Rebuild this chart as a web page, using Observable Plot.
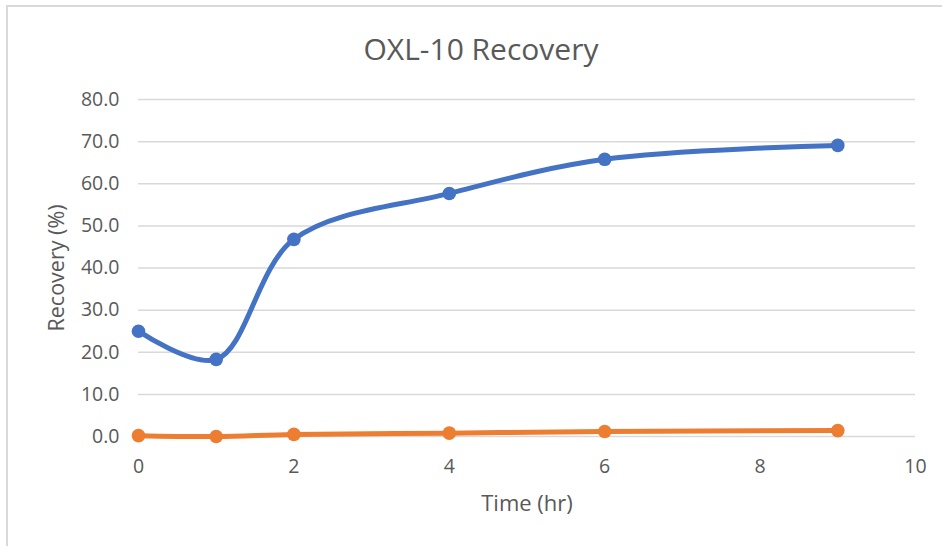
<!DOCTYPE html>
<html>
<head>
<meta charset="utf-8">
<script src="https://cdn.jsdelivr.net/npm/d3@7"></script>
<script src="https://cdn.jsdelivr.net/npm/@observablehq/plot@0.6"></script>
<style>
  html, body { margin: 0; padding: 0; background: #fff; }
  #wrap { position: relative; width: 942px; height: 546px; overflow: hidden; font-family: "Open Sans", sans-serif; }
  #frame { position: absolute; left: 6px; top: 5px; right: -10px; bottom: -10px; border-top: 2px solid #d9d9d9; border-left: 2px solid #d9d9d9; }
  #title { position: absolute; left: 481px; top: 28px; transform: translateX(-50%); white-space: nowrap; font-size: 30px; color: #595959; }
  #chart { position: absolute; left: 0; top: 0; }
</style>
</head>
<body>
<div id="wrap">
  <div id="frame"></div>
  <div id="chart"></div>
  <div id="title">OXL-10 Recovery</div>
</div>
<script>
const times = [0, 1, 2, 4, 6, 9];
const blueSeries = [25.0, 18.3, 46.8, 57.7, 65.8, 69.1];
const orangeSeries = [0.2, 0.0, 0.5, 0.8, 1.2, 1.4];
const xTicks = [0, 2, 4, 6, 8, 10];
const yTicks = [0, 10, 20, 30, 40, 50, 60, 70, 80];

const blue = times.map((t, i) => ({t, v: blueSeries[i]}));
const orange = times.map((t, i) => ({t, v: orangeSeries[i]}));

const chart = Plot.plot({
  width: 942,
  height: 546,
  marginLeft: 138,
  marginRight: 27,
  marginTop: 99,
  marginBottom: 110,
  style: { fontFamily: "'Open Sans', sans-serif", fontSize: "19.5px", color: "#595959", background: "transparent" },
  x: { domain: [0, 10] },
  y: { domain: [0, 80] },
  marks: [
    Plot.gridY(yTicks, { stroke: "#d9d9d9", strokeOpacity: 1, strokeWidth: 1.5 }),
    Plot.axisX(xTicks, { tickSize: 0, tickPadding: 23, fontSize: 19.5, label: null, fill: "#595959" }),
    Plot.axisY(yTicks, { tickSize: 0, tickPadding: 19, fontSize: 19.5, tickFormat: d3.format(".1f"), label: null, fill: "#595959" }),
    Plot.text(["Time (hr)"], { frameAnchor: "bottom", dy: 74, fontSize: 22, fill: "#595959", text: d => d }),
    Plot.text(["Recovery (%)"], { frameAnchor: "left", textAnchor: "middle", dx: -81, rotate: -90, fontSize: 21.5, fill: "#595959", text: d => d }),
    Plot.line(orange, { x: "t", y: "v", stroke: "#ED7D31", strokeWidth: 5, curve: "catmull-rom" }),
    Plot.dot(orange, { x: "t", y: "v", fill: "#ED7D31", r: 6.8 }),
    Plot.line(blue, { x: "t", y: "v", stroke: "#4472C4", strokeWidth: 5, curve: "catmull-rom" }),
    Plot.dot(blue, { x: "t", y: "v", fill: "#4472C4", r: 6.8 })
  ]
});
document.getElementById("chart").appendChild(chart);
</script>
</body>
</html>
